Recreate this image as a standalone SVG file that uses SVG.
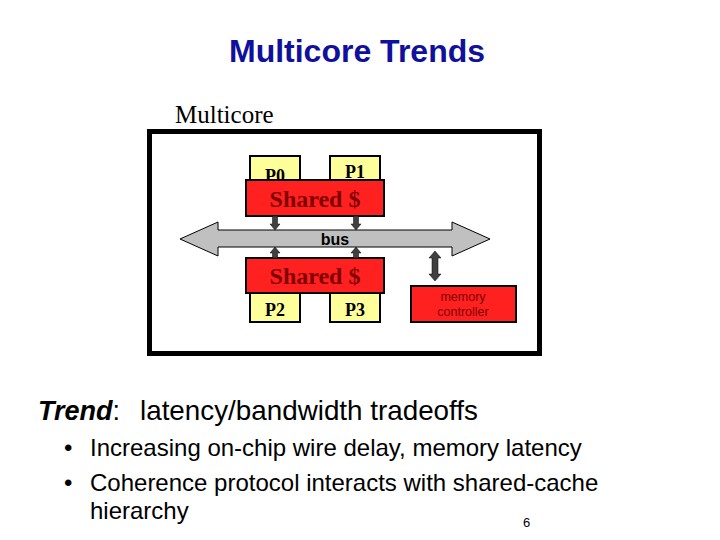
<svg xmlns="http://www.w3.org/2000/svg" width="720" height="540" viewBox="0 0 720 540">
<style>
.proc{fill:#ffff99;stroke:#000;stroke-width:2}
.cache{fill:#ff2020;stroke:#000;stroke-width:2}
.ptxt{font-family:"Liberation Serif",serif;font-weight:bold;font-size:18px;fill:#000;text-anchor:middle}
.ctxt{font-family:"Liberation Serif",serif;font-weight:bold;font-size:24px;fill:#800000;text-anchor:middle}
.sans{font-family:"Liberation Sans",Arial,sans-serif}
.darr{fill:#404040;stroke:#000;stroke-width:0.5}
</style>
<rect width="720" height="540" fill="#fff"/>
<text x="357" y="62" class="sans" font-size="32" font-weight="bold" fill="#10109c" text-anchor="middle">Multicore Trends</text>
<text x="175" y="123" font-family="'Liberation Serif',serif" font-size="25" fill="#000">Multicore</text>
<rect id="chip" x="149.5" y="131.5" width="390" height="222" fill="#fff" stroke="#000" stroke-width="5"/>
<g id="bus">
<polygon points="180,239 218,222 218,230 452,230 452,222 490,239 452,256 452,247 218,247 218,256" fill="#c0c0c0" stroke="#000" stroke-width="1"/>
<text x="335" y="245" class="sans" font-size="16" font-weight="bold" text-anchor="middle">bus</text>
</g>
<g id="P0"><rect class="proc" x="250" y="156" width="50" height="30"/><text class="ptxt" x="275" y="182">P0</text></g>
<g id="P1"><rect class="proc" x="330" y="156" width="50" height="30"/><text class="ptxt" x="355" y="178">P1</text></g>
<g id="cache-top"><rect class="cache" x="246" y="180" width="138" height="36"/><text class="ctxt" x="315" y="207">Shared $</text></g>
<g id="cache-bottom"><rect class="cache" x="246" y="258" width="138" height="35"/><text class="ctxt" x="315" y="284">Shared $</text></g>
<g id="P2"><rect class="proc" x="250" y="293" width="50" height="29"/><text class="ptxt" x="275" y="316">P2</text></g>
<g id="P3"><rect class="proc" x="330" y="293" width="50" height="29"/><text class="ptxt" x="355" y="316">P3</text></g>
<g id="memctrl"><rect class="cache" x="411" y="286" width="105" height="36"/>
<text x="463" y="301" class="sans" font-size="12.5" fill="#800000" text-anchor="middle">memory</text>
<text x="463" y="316" class="sans" font-size="12.5" fill="#800000" text-anchor="middle">controller</text></g>
<g id="connectors">
<polygon class="darr" points="272.5,216 277.5,216 277.5,224 280,224 275,230 270,224 272.5,224"/>
<polygon class="darr" points="353.5,216 358.5,216 358.5,224 361,224 356,230 351,224 353.5,224"/>
<polygon class="darr" points="272.5,258 277.5,258 277.5,253 280,253 275,247 270,253 272.5,253"/>
<polygon class="darr" points="353.5,258 358.5,258 358.5,253 361,253 356,247 351,253 353.5,253"/>
<polygon class="darr" points="435,251 441,258 438,258 438,274 441,274 435,281 429,274 432,274 432,258 429,258"/>
</g>
<text x="38" y="420" class="sans" font-size="27" fill="#000"><tspan font-weight="bold" font-style="italic">Trend</tspan>:<tspan x="140" font-size="27.8">latency/bandwidth tradeoffs</tspan></text>
<g class="sans" font-size="24" fill="#000">
<text x="64" y="456">•</text>
<text x="90" y="456">Increasing on-chip wire delay, memory latency</text>
<text x="64" y="491">•</text>
<text x="90" y="491">Coherence protocol interacts with shared-cache</text>
<text x="90" y="519">hierarchy</text>
</g>
<text x="523" y="527" class="sans" font-size="13" fill="#000">6</text>
</svg>
